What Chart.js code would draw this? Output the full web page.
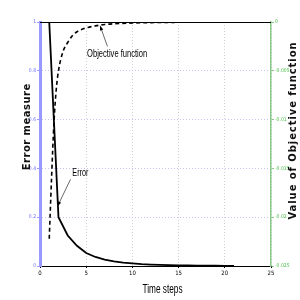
<!DOCTYPE html>
<html>
<head>
<meta charset="utf-8">
<script src="https://cdn.jsdelivr.net/npm/chart.js@4/dist/chart.umd.min.js"></script>
<style>
  html, body { margin: 0; padding: 0; background: #fff; }
  #wrap { width: 300px; height: 300px; }
</style>
</head>
<body>
<div id="wrap"><canvas id="chartId" width="300" height="300"></canvas></div>
<script>
// data
const errorSteps = [1, 2, 3, 4, 5, 6, 7, 8, 9, 10, 11, 12, 13, 14, 15, 16, 17, 18, 19, 20, 21];
const errorValues = [1, 0.2, 0.125, 0.083, 0.053, 0.037, 0.026, 0.019, 0.014, 0.011, 0.008, 0.006, 0.0045, 0.0035, 0.0027, 0.002, 0.0015, 0.0012, 0.001, 0.0008, 0.0006];
const objSteps = [1, 1.1, 1.25, 1.5, 1.75, 2, 2.5, 3, 3.5, 4, 5, 6, 7, 8, 10, 12, 15, 18, 21];
const objValues = [-0.0222, -0.0197, -0.016, -0.0105, -0.007, -0.005, -0.003, -0.0021, -0.0014, -0.001, -0.0006, -0.0004, -0.00025, -0.00018, -0.0001, -0.00006, -0.00003, -0.00001, 0];
const xTicks = [0, 5, 10, 15, 20, 25];
const leftTicks = [0, 0.2, 0.4, 0.6, 0.8, 1];
const rightTicks = [0, -0.005, -0.01, -0.015, -0.02, -0.025];

function pts(xs, ys) {
  return xs.map((x, i) => ({ x: x, y: ys[i] }));
}

function fmt(v) {
  return String(Number(v.toFixed(4)));
}

// text squeezed or stretched to a given width, like the narrow font of the original
function fitText(ctx, text, x, y, w, align) {
  const m = ctx.measureText(text).width;
  const k = w / m;
  ctx.save();
  ctx.translate(x, y);
  ctx.scale(k, 1);
  ctx.textAlign = align;
  ctx.fillText(text, 0, 0);
  ctx.restore();
}

// title text spaced out (or in) to a given width
function spacedText(ctx, text, x, y, w) {
  ctx.letterSpacing = '0px';
  const m = ctx.measureText(text).width;
  const sp = (w - m) / text.length;
  ctx.letterSpacing = sp.toFixed(2) + 'px';
  ctx.textAlign = 'center';
  ctx.fillText(text, x + sp / 2, y);
  ctx.letterSpacing = '0px';
}

// axis titles, top border and the two arrows with their text
const extras = {
  id: 'extras',
  afterDraw(chart) {
    const ctx = chart.ctx;
    const a = chart.chartArea;
    const xs = chart.scales.x, ys = chart.scales.y;
    ctx.save();
    ctx.strokeStyle = '#000';
    ctx.lineWidth = 1;
    ctx.beginPath();
    ctx.moveTo(a.left, a.top + 0.5);
    ctx.lineTo(a.right, a.top + 0.5);
    ctx.stroke();

    ctx.fillStyle = '#000';
    ctx.textBaseline = 'middle';
    ctx.font = '13px "Liberation Sans"';
    fitText(ctx, 'Time steps', (a.left + a.right) / 2 + 7, 289, 40, 'center');

    ctx.font = 'bold 10px "DejaVu Sans"';
    ctx.fillStyle = '#111';
    ctx.save();
    ctx.translate(27, 127);
    ctx.rotate(-Math.PI / 2);
    spacedText(ctx, 'Error measure', 0, 0, 87);
    ctx.restore();
    ctx.save();
    ctx.translate(293, 131);
    ctx.rotate(-Math.PI / 2);
    spacedText(ctx, 'Value of Objective function', 0, 0, 178);
    ctx.restore();

    function arrow(x1, y1, x2, y2) {
      ctx.strokeStyle = '#444';
      ctx.fillStyle = '#000';
      ctx.lineWidth = 0.8;
      ctx.beginPath();
      ctx.moveTo(x1, y1);
      ctx.lineTo(x2, y2);
      ctx.stroke();
      const ang = Math.atan2(y2 - y1, x2 - x1);
      ctx.beginPath();
      ctx.moveTo(x2, y2);
      ctx.lineTo(x2 - 5 * Math.cos(ang - 0.35), y2 - 5 * Math.sin(ang - 0.35));
      ctx.lineTo(x2 - 5 * Math.cos(ang + 0.35), y2 - 5 * Math.sin(ang + 0.35));
      ctx.closePath();
      ctx.fill();
    }

    ctx.font = '11px "Liberation Sans"';
    ctx.fillStyle = '#000';
    fitText(ctx, 'Objective function', xs.getPixelForValue(5.1), ys.getPixelForValue(0.87), 60, 'left');
    arrow(xs.getPixelForValue(7.3), ys.getPixelForValue(0.9), xs.getPixelForValue(6.5), ys.getPixelForValue(0.985));

    ctx.fillStyle = '#000';
    fitText(ctx, 'Error', xs.getPixelForValue(3.5), ys.getPixelForValue(0.38), 16, 'left');
    arrow(xs.getPixelForValue(3.3), ys.getPixelForValue(0.355), xs.getPixelForValue(1.9), ys.getPixelForValue(0.245));
    ctx.restore();
  }
};

new Chart(document.getElementById('chartId'), {
  type: 'line',
  data: {
    datasets: [{
      label: 'Error',
      data: pts(errorSteps, errorValues),
      yAxisID: 'y',
      borderColor: '#000',
      borderWidth: 1.8,
      pointRadius: 0,
      tension: 0,
      fill: false
    }, {
      label: 'Objective function',
      data: pts(objSteps, objValues),
      yAxisID: 'y2',
      borderColor: '#000',
      borderWidth: 1.6,
      borderDash: [4, 3],
      pointRadius: 0,
      cubicInterpolationMode: 'monotone',
      fill: false
    }]
  },
  plugins: [extras],
  options: {
    responsive: false,
    animation: false,
    layout: { padding: { top: 22, left: 0, right: 0, bottom: 0 } },
    plugins: {
      legend: { display: false },
      tooltip: { enabled: false }
    },
    scales: {
      x: {
        type: 'linear',
        min: 0, max: 25,
        afterBuildTicks: s => { s.ticks = xTicks.map(v => ({ value: v })); },
        afterFit: s => { s.height = 34; },
        border: { color: '#000', width: 1, dash: [1, 2] },
        grid: { color: '#cfcfd8', tickLength: 2, tickColor: '#000' },
        ticks: { color: '#000', font: { size: 6, family: 'DejaVu Sans Condensed' }, padding: 2, maxRotation: 0 }
      },
      y: {
        position: 'left',
        min: 0, max: 1,
        afterBuildTicks: s => { s.ticks = leftTicks.map(v => ({ value: v })); },
        afterFit: s => { s.width = 40; },
        border: { color: '#9999ff', width: 3, dash: [1, 2] },
        grid: { color: '#c4c4f8', tickLength: 3, tickColor: '#9999ff' },
        ticks: { color: '#6b6bff', font: { size: 5, family: 'DejaVu Sans Condensed' }, padding: 1, callback: fmt }
      },
      y2: {
        position: 'right',
        min: -0.025, max: 0,
        afterBuildTicks: s => { s.ticks = rightTicks.map(v => ({ value: v })); },
        afterFit: s => { s.width = 29; },
        border: { color: '#88c888', width: 1.5 },
        grid: { drawOnChartArea: false, tickLength: 3, tickColor: '#88c888' },
        ticks: { color: '#44bb44', font: { size: 5, family: 'DejaVu Sans Condensed' }, padding: 1, callback: fmt }
      }
    }
  }
});
</script>
</body>
</html>
